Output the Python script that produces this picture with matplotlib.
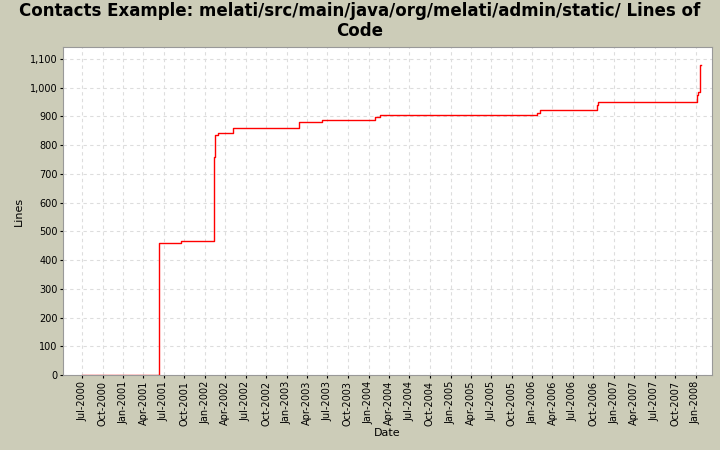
import matplotlib
matplotlib.use("Agg")
import matplotlib.pyplot as plt
import matplotlib.dates as mdates
import pandas as pd

dates = ["2000-07-01","2001-06-11","2001-09-17","2002-02-12","2002-02-16","2002-03-01",
         "2002-05-08","2003-02-23","2003-06-06","2004-01-30","2004-02-21","2006-01-20",
         "2006-02-02","2006-10-15","2006-10-20","2008-01-06","2008-01-10","2008-01-19","2008-01-24"]
lines = [0,460,465,760,835,843,860,880,888,897,905,912,922,940,950,975,985,1080,1080]
x = pd.to_datetime(dates)

fig = plt.figure(figsize=(7.2,4.5), dpi=100, facecolor="#CCCCB8")
ax = fig.add_axes([63/720, 75/450, (712-63)/720, (375-47)/450])
ax.set_facecolor("white")
ax.step(x, lines, where="post", color="red", lw=1)
ax.set_xlim(pd.Timestamp("2000-04-07"), pd.Timestamp("2008-03-13"))
ax.set_ylim(0, 1141)
ax.set_yticks(range(0, 1101, 100))
ax.set_yticklabels([f"{v:,}" for v in range(0, 1101, 100)], fontsize=7)
ax.xaxis.set_major_locator(mdates.MonthLocator(bymonth=[1,4,7,10]))
ax.xaxis.set_major_formatter(mdates.DateFormatter("%b-%Y"))
plt.setp(ax.get_xticklabels(), rotation=90, fontsize=7)
ax.grid(True, color="#DDDDDD", ls=(0,(3,3)), lw=0.8)
ax.tick_params(length=2, pad=2)
for s in ax.spines.values():
    s.set_color("#999999")
ax.set_xlabel("Date", fontsize=8, labelpad=2)
ax.set_ylabel("Lines", fontsize=8, labelpad=4)
fig.text(0.5, 0.995, "Contacts Example: melati/src/main/java/org/melati/admin/static/ Lines of\nCode",
         ha="center", va="top", fontsize=12, fontweight="bold", linespacing=1.15)
fig.savefig("out.png", dpi=100, facecolor=fig.get_facecolor())
